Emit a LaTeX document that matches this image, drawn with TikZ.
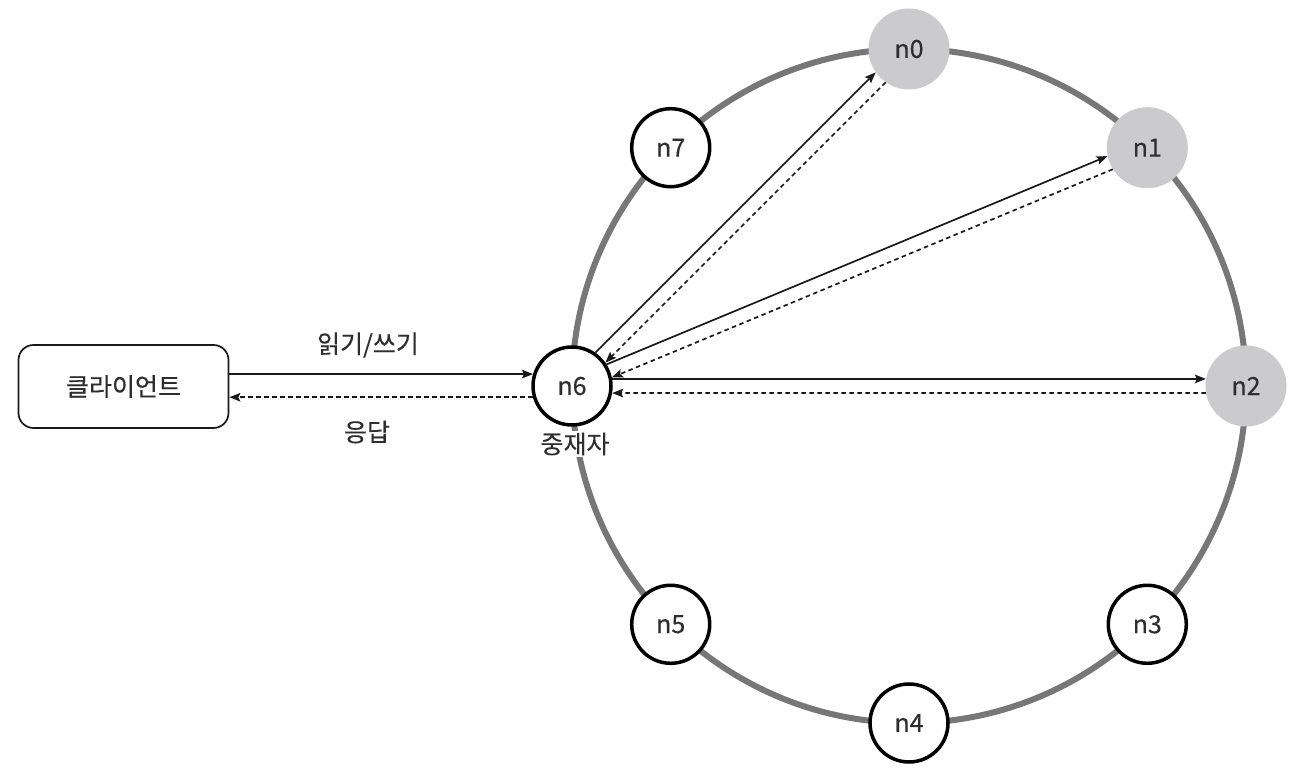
\documentclass[tikz,border=0pt]{standalone}
\usepackage{fontspec}
\setmainfont{Noto Sans CJK KR}[FakeBold=0.3]
\usetikzlibrary{arrows.meta,calc}
\definecolor{ringc}{HTML}{777777}
\definecolor{gnode}{HTML}{CBCBCD}
\definecolor{txt}{HTML}{2E2E2E}
\begin{document}
\begin{tikzpicture}[x=1pt,y=1pt,
  lbl/.style={font=\fontsize{25}{29}\selectfont,text=txt,inner sep=0pt},
  wnode/.style={circle,draw=black,line width=3.5pt,fill=white,minimum size=78pt,inner sep=0pt,lbl},
  gnodes/.style={circle,fill=gnode,minimum size=81pt,inner sep=0pt,lbl},
  req/.style={line width=1.7pt,draw=black!90,-{Stealth[length=11pt,width=8.5pt,inset=2pt]}},
  resp/.style={req,dash pattern=on 4.5pt off 3.5pt},
  clientbox/.style={draw=black!90,line width=1.7pt,rounded corners=15pt,minimum width=210pt,minimum height=83pt,fill=white,lbl}]
\useasboundingbox (0,0) rectangle (1314,774);
\coordinate (c) at (909,388);
\draw[ringc,line width=6pt] (c) circle[radius=337pt];
\node[gnodes] (n0) at ($(c)+(90:337)$) {n0};
\node[gnodes] (n1) at ($(c)+(45:337)$) {n1};
\node[gnodes] (n2) at ($(c)+(0:337)$) {n2};
\node[wnode] (n3) at ($(c)+(-45:337)$) {n3};
\node[wnode] (n4) at ($(c)+(-90:337)$) {n4};
\node[wnode] (n5) at ($(c)+(-135:337)$) {n5};
\node[wnode] (n6) at ($(c)+(180:337)$) {n6};
\node[wnode] (n7) at ($(c)+(135:337)$) {n7};
\node[lbl,fill=white,inner sep=2pt] (med) at (575,330) {중재자};
\node[clientbox] (client) at (123.5,387.5) {클라이언트};
\node[lbl] (rw) at (368,429) {읽기/쓰기};
\node[lbl] (ans) at (367,342) {응답};
% client <-> n6
\draw[req] (client.east |- n6.163) -- (n6.163);
\draw[resp] (n6.196) -- (client.east |- n6.196);
% n6 <-> n0
\draw[req] (n6.55) -- (n0.215);
\draw[resp] (n0.235) -- (n6.35);
% n6 <-> n1
\draw[req] (n6.32.5) -- (n1.192.5);
\draw[resp] (n1.212.5) -- (n6.12.5);
% n6 <-> n2
\draw[req] (n6.10) -- (n2.170);
\draw[resp] (n2.190) -- (n6.350);
\end{tikzpicture}
\end{document}
